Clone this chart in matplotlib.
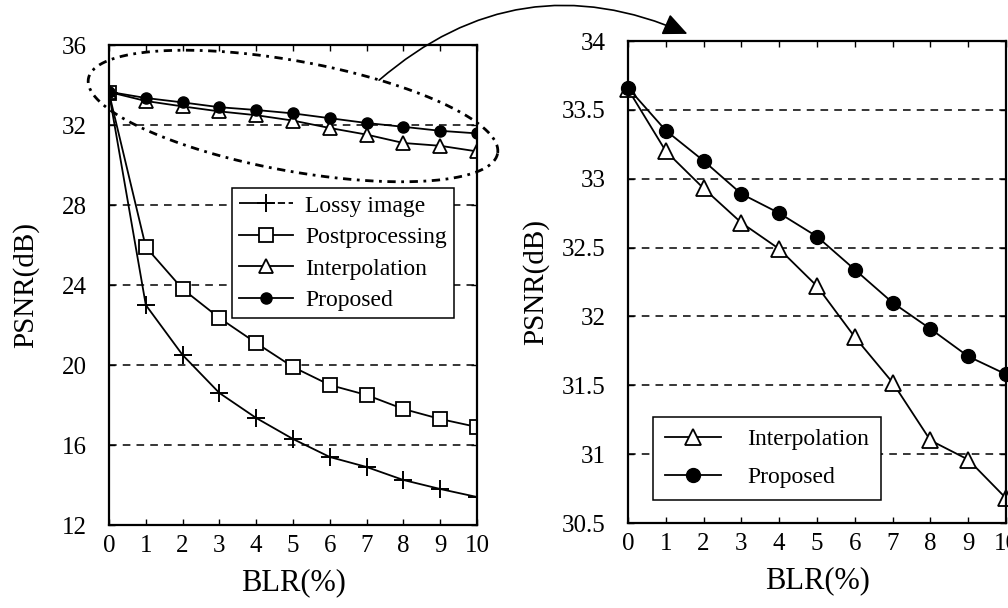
import matplotlib
matplotlib.use("Agg")
import matplotlib.pyplot as plt
import numpy as np
from matplotlib.lines import Line2D
from matplotlib.patches import FancyArrowPatch

plt.rcParams['font.family'] = ['Liberation Serif', 'DejaVu Serif']

blr = [0, 1, 2, 3, 4, 5, 6, 7, 8, 9, 10]
lossy = [33.6, 23.0, 20.5, 18.6, 17.35, 16.3, 15.4, 14.9, 14.25, 13.8, 13.4]
postproc = [33.6, 25.9, 23.8, 22.35, 21.1, 19.9, 19.0, 18.5, 17.8, 17.3, 16.9]
interp = [33.65, 33.2, 32.93, 32.68, 32.49, 32.22, 31.85, 31.52, 31.10, 30.96, 30.68]
proposed = [33.66, 33.35, 33.13, 32.89, 32.75, 32.58, 32.34, 32.10, 31.91, 31.71, 31.58]

left_yticks = [12, 16, 20, 24, 28, 32, 36]
right_yticks = [30.5, 31, 31.5, 32, 32.5, 33, 33.5, 34]
right_yticklabels = ['30.5', '31', '31.5', '32', '32.5', '33', '33.5', '34']

W, H = 1008, 608
fig = plt.figure(figsize=(W / 100, H / 100), dpi=100)

ax1 = fig.add_axes([109 / W, 1 - 525 / H, (477 - 109) / W, (525 - 45) / H])
ax2 = fig.add_axes([628 / W, 1 - 523 / H, (1006 - 628) / W, (523 - 41) / H])

lw = 1.3
ax1.plot(blr, lossy, color='black', lw=lw, marker='+', ms=13, mew=1.4)
ax1.plot(blr, postproc, color='black', lw=lw, marker='s', ms=10, mfc='white', mew=1.3)
ax1.plot(blr, interp, color='black', lw=lw, marker='^', ms=10, mfc='white', mew=1.3)
ax1.plot(blr, proposed, color='black', lw=lw, marker='o', ms=8)

ax2.plot(blr, interp, color='black', lw=lw, marker='^', ms=12, mfc='white', mew=1.3,
         clip_on=False)
ax2.plot(blr, proposed, color='black', lw=lw, marker='o', ms=10, clip_on=False)

for ax, yt in [(ax1, left_yticks), (ax2, right_yticks)]:
    ax.set_xlim(0, 10)
    ax.set_ylim(yt[0], yt[-1])
    ax.set_xticks(blr)
    ax.set_yticks(yt)
    for v in yt[1:-1]:
        ax.axhline(v, color='black', lw=1.1, ls=(0, (5, 4)), zorder=0.5)
    ax.tick_params(direction='in', length=4, width=1, top=True, right=True,
                   labelsize=18)
    ax.tick_params(axis='y', pad=16)
    ax.tick_params(axis='x', pad=7)
    for s in ax.spines.values():
        s.set_linewidth(1.6)
    ax.set_xlabel('BLR(%)', fontsize=22, labelpad=8)

ax1.set_ylabel('PSNR(dB)', fontsize=21, labelpad=16)
ax2.set_ylabel('PSNR(dB)', fontsize=21, labelpad=9)
ax2.set_yticklabels(right_yticklabels)

# legends
h_lossy = Line2D([], [], color='black', lw=lw, marker='+', ms=13, mew=1.4,
                 ls=(0, (14, 1.5, 4, 2, 4, 2)))
h_post = Line2D([], [], color='black', lw=lw, marker='s', ms=10, mfc='white', mew=1.3)
h_int = Line2D([], [], color='black', lw=lw, marker='^', ms=10, mfc='white', mew=1.3)
h_prop = Line2D([], [], color='black', lw=lw, marker='o', ms=8)
leg1 = ax1.legend([h_lossy, h_post, h_int, h_prop],
                  ['Lossy image', 'Postprocessing', 'Interpolation', 'Proposed'],
                  loc='upper left', bbox_to_anchor=(0.334, 0.702), fontsize=17,
                  fancybox=False, edgecolor='black', framealpha=1,
                  handlelength=2.3, handletextpad=0.5, labelspacing=0.42,
                  borderpad=0.3, borderaxespad=0)
leg1.get_frame().set_linewidth(1.1)

h_int2 = Line2D([], [], color='black', lw=lw, marker='^', ms=12, mfc='white', mew=1.3)
h_prop2 = Line2D([], [], color='black', lw=lw, marker='o', ms=10)
leg2 = ax2.legend([h_int2, h_prop2], ['Interpolation', 'Proposed'],
                  loc='lower left', bbox_to_anchor=(0.066, 0.048), fontsize=17,
                  fancybox=False, edgecolor='black', framealpha=1,
                  handlelength=2.4, handletextpad=1.1, labelspacing=0.7,
                  borderpad=0.5, borderaxespad=0)
leg2.get_frame().set_linewidth(1.1)

# dash-dot ellipse around the upper curves (pixel space -> figure fraction)
t = np.linspace(0, 2 * np.pi, 300)
cx, cy, a, b = 293, 116, 208, 55
th = np.arctan2(75, 410)
px = cx + a * np.cos(t) * np.cos(th) - b * np.sin(t) * np.sin(th)
py = cy + a * np.cos(t) * np.sin(th) + b * np.sin(t) * np.cos(th)
fig.add_artist(Line2D(px / W, 1 - py / H, color='black', lw=2.0,
                      ls=(0, (3, 2, 1, 2)), transform=fig.transFigure))

arrow = FancyArrowPatch((377 / W, 1 - 82 / H), (690 / W, 1 - 35 / H),
                        transform=fig.transFigure, connectionstyle='arc3,rad=-0.32',
                        arrowstyle='-|>,head_length=10,head_width=4.5', color='black',
                        lw=1.2, mutation_scale=1.5)
fig.add_artist(arrow)

fig.savefig('out.png', dpi=100)
